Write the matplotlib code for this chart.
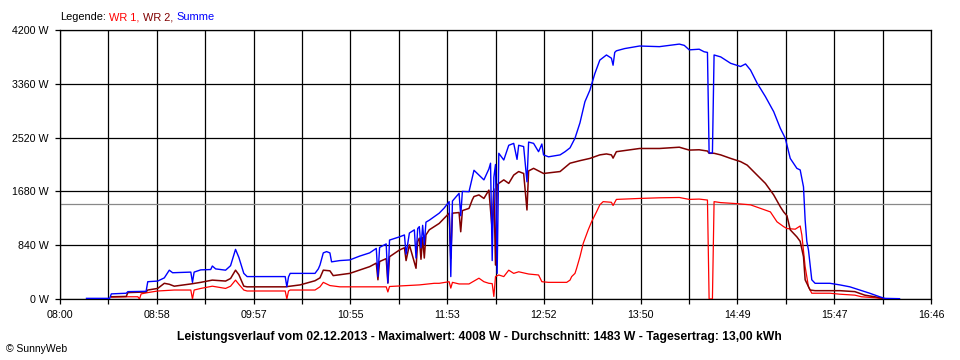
import matplotlib
matplotlib.use("Agg")
import matplotlib.pyplot as plt
from matplotlib.offsetbox import TextArea, HPacker, AnchoredOffsetbox

plt.rcParams['font.family'] = ['Liberation Sans', 'DejaVu Sans']

# --- Daten ---
# WR 1 (rot)
wr1_zeit = ["08:31", "08:41", "08:47", "08:48", "08:49", "08:53", "08:59", "09:09", "09:19", "09:20",
            "09:21", "09:25", "09:32", "09:40", "09:43", "09:46", "09:48", "09:51", "09:53", "10:16",
            "10:17", "10:18", "10:19", "10:34", "10:37", "10:39", "10:43", "10:49", "11:17", "11:18",
            "11:19", "11:37", "11:46", "11:49", "11:55", "11:56", "11:57", "12:01", "12:07", "12:10",
            "12:13", "12:16", "12:19", "12:21", "12:22", "12:23", "12:25", "12:28", "12:31", "12:34",
            "12:37", "12:43", "12:49", "12:51", "12:55", "13:06", "13:08", "13:09", "13:11", "13:12",
            "13:14", "13:16", "13:19", "13:21", "13:24", "13:26", "13:28", "13:33", "13:34", "13:36",
            "13:50", "14:02", "14:14", "14:20", "14:26", "14:31", "14:32", "14:34", "14:35", "14:39",
            "14:48", "14:57", "15:03", "15:09", "15:13", "15:17", "15:19", "15:24", "15:27", "15:28",
            "15:30", "15:32", "15:34", "15:45", "15:51", "16:00", "16:04", "16:12", "16:18"]
wr1_w = [30, 35, 35, 0, 80, 100, 125, 140, 140, 0,
         140, 165, 200, 165, 200, 295, 230, 140, 125, 125,
         0, 125, 140, 140, 190, 260, 210, 190, 190, 110,
         195, 220, 245, 245, 270, 170, 260, 235, 235, 280,
         325, 270, 245, 240, 40, 350, 375, 350, 450, 400,
         425, 390, 375, 270, 260, 260, 295, 350, 400, 480,
         660, 870, 1080, 1205, 1360, 1470, 1520, 1510, 1460, 1555,
         1570, 1580, 1585, 1555, 1560, 1545, 0, 0, 1520, 1505,
         1490, 1470, 1415, 1360, 1205, 1130, 1100, 1090, 1140, 1000,
         505, 190, 90, 90, 75, 60, 35, 20, 0]

# WR 2 (dunkelrot)
wr2_zeit = ["08:31", "08:40", "08:41", "08:52", "08:53", "08:59", "09:03", "09:06", "09:09", "09:19",
            "09:25", "09:32", "09:40", "09:43", "09:46", "09:48", "09:51", "09:53", "10:16", "10:19",
            "10:25", "10:34", "10:37", "10:39", "10:43", "10:45", "10:55", "11:07", "11:11", "11:12",
            "11:13", "11:17", "11:18", "11:19", "11:25", "11:28", "11:29", "11:31", "11:35", "11:36",
            "11:37", "11:38", "11:39", "11:40", "11:41", "11:43", "11:49", "11:55", "11:56", "11:57",
            "12:01", "12:02", "12:03", "12:07", "12:09", "12:10", "12:13", "12:16", "12:19", "12:21",
            "12:22", "12:23", "12:24", "12:25", "12:28", "12:31", "12:34", "12:37", "12:40", "12:42",
            "12:43", "12:46", "12:52", "13:02", "13:08", "13:14", "13:20", "13:26", "13:30", "13:33",
            "13:34", "13:36", "13:50", "14:02", "14:14", "14:20", "14:26", "14:31", "14:32", "14:35",
            "14:39", "14:45", "14:51", "14:55", "15:00", "15:06", "15:11", "15:15", "15:17", "15:19",
            "15:21", "15:25", "15:27", "15:29", "15:30", "15:33", "15:36", "15:51", "16:00", "16:06",
            "16:12", "16:18"]
wr2_w = [35, 40, 100, 110, 140, 165, 245, 230, 200, 235,
         260, 295, 280, 320, 450, 380, 200, 190, 190, 200,
         220, 285, 330, 450, 440, 365, 400, 505, 560, 300,
         585, 630, 250, 660, 765, 800, 600, 845, 480, 900,
         950, 620, 960, 640, 1000, 1080, 1180, 1340, 635, 1340,
         1350, 1050, 1380, 1415, 1550, 1600, 1625, 1570, 1700, 1080,
         1720, 530, 1780, 1805, 1860, 1805, 1935, 1990, 1960, 1390,
         2000, 2040, 1960, 1990, 2120, 2160, 2195, 2250, 2265, 2250,
         2200, 2300, 2350, 2350, 2370, 2325, 2330, 2310, 2275, 2275,
         2250, 2195, 2145, 2090, 1960, 1805, 1625, 1440, 1360, 1300,
         1080, 970, 900, 660, 300, 140, 130, 130, 115, 60,
         35, 5]

# Summe (blau)
summe_zeit = ["08:16", "08:30", "08:31", "08:40", "08:41", "08:52", "08:53", "08:59", "09:03", "09:06",
              "09:08", "09:19", "09:20", "09:21", "09:25", "09:31", "09:32", "09:34", "09:40", "09:43",
              "09:46", "09:48", "09:51", "09:53", "10:16", "10:17", "10:18", "10:19", "10:34", "10:36",
              "10:37", "10:39", "10:41", "10:43", "10:44", "10:49", "10:55", "11:01", "11:07", "11:11",
              "11:12", "11:13", "11:17", "11:18", "11:19", "11:25", "11:28", "11:29", "11:31", "11:34",
              "11:35", "11:36", "11:37", "11:38", "11:39", "11:40", "11:41", "11:43", "11:49", "11:52",
              "11:55", "11:56", "11:57", "12:01", "12:02", "12:03", "12:07", "12:09", "12:10", "12:13",
              "12:16", "12:19", "12:20", "12:21", "12:22", "12:23", "12:24", "12:25", "12:28", "12:31",
              "12:34", "12:36", "12:37", "12:40", "12:42", "12:43", "12:46", "12:49", "12:51", "12:52",
              "12:55", "13:02", "13:05", "13:08", "13:11", "13:14", "13:17", "13:20", "13:23", "13:26",
              "13:30", "13:33", "13:34", "13:35", "13:36", "13:41", "13:50", "14:02", "14:14", "14:17",
              "14:20", "14:26", "14:29", "14:31", "14:32", "14:34", "14:35", "14:39", "14:45", "14:51",
              "14:54", "14:57", "15:01", "15:06", "15:11", "15:15", "15:18", "15:21", "15:25", "15:27",
              "15:29", "15:30", "15:31", "15:32", "15:34", "15:36", "15:45", "15:51", "15:57", "16:03",
              "16:09", "16:15", "16:18", "16:27"]
summe_w = [10, 10, 80, 90, 115, 120, 270, 280, 330, 450,
           410, 420, 260, 420, 455, 460, 515, 470, 450, 520,
           775, 650, 400, 350, 350, 190, 345, 400, 400, 470,
           530, 720, 740, 720, 580, 600, 610, 670, 720, 790,
           350, 805, 860, 250, 920, 970, 1000, 700, 1030, 1080,
           640, 1100, 1130, 800, 1150, 850, 1200, 1230, 1340, 1420,
           1520, 350, 1530, 1650, 1300, 1680, 1675, 1900, 2010, 1935,
           1860, 2030, 2120, 600, 1900, 2100, 400, 2275, 2170, 2400,
           2430, 2180, 2400, 2380, 1830, 2450, 2430, 2300, 2420, 2250,
           2220, 2250, 2300, 2360, 2510, 2750, 3080, 3260, 3520, 3730,
           3810, 3760, 3650, 3850, 3875, 3910, 3950, 3940, 3980, 3960,
           3890, 3900, 3860, 3850, 2280, 2280, 3810, 3780, 3680, 3630,
           3670, 3575, 3370, 3160, 2925, 2665, 2510, 2195, 2040, 2015,
           1750, 1230, 900, 765, 300, 245, 245, 220, 190, 140,
           90, 35, 10, 5]

durchschnitt = 1483
y_ticks = [0, 840, 1680, 2520, 3360, 4200]
x_labels = ["08:00", "08:58", "09:57", "10:55", "11:53", "12:52", "13:50", "14:49", "15:47", "16:46"]
titel = ("Leistungsverlauf vom 02.12.2013 - Maximalwert: 4008 W - "
         "Durchschnitt: 1483 W - Tagesertrag: 13,00 kWh")


def minuten(liste):
    return [int(s[:2]) * 60 + int(s[3:]) for s in liste]


start, ende = minuten(["08:00", "16:46"])

fig = plt.figure(figsize=(9.6, 3.6), dpi=100)
ax = fig.add_axes([60 / 960, 61 / 360, 871 / 960, 269 / 360])

# Gitter: 18 Spalten, Beschriftung an jeder zweiten
n = 18
x_pos = [start + (ende - start) * i / n for i in range(n + 1)]
x_txt = []
for i in range(n + 1):
    x_txt.append(x_labels[i // 2] if i % 2 == 0 else "")
ax.set_xticks(x_pos)
ax.set_xticklabels(x_txt)
ax.set_yticks(y_ticks)
ax.set_yticklabels([f"{v} W" for v in y_ticks])
ax.grid(True, color='black', linewidth=0.9)
ax.set_axisbelow(True)
ax.tick_params(direction='out', length=3.6, width=0.9, labelsize=7.7, pad=4.5, colors='black')
for s in ax.spines.values():
    s.set_linewidth(0.9)

ax.axhline(durchschnitt, color='#888888', linewidth=0.9, zorder=1.5)

ax.plot(minuten(wr1_zeit), wr1_w, color='#ff0000', linewidth=0.9, zorder=3)
ax.plot(minuten(wr2_zeit), wr2_w, color='#800000', linewidth=1.1, zorder=4)
ax.plot(minuten(summe_zeit), summe_w, color='#0000ff', linewidth=1.0, zorder=5)

ax.set_xlim(start, ende)
ax.set_ylim(0, 4200)

# Legende als farbiger Text
teile = [TextArea("Legende:", textprops=dict(color='black', size=7.9)),
         TextArea("WR 1,", textprops=dict(color='#ff0000', size=7.9)),
         TextArea("WR 2,", textprops=dict(color='#800000', size=7.9)),
         TextArea("Summe", textprops=dict(color='#0000ff', size=7.9))]
box = HPacker(children=teile, align='baseline', pad=0, sep=2.5)
anker = AnchoredOffsetbox(loc='center left', child=box, pad=0, borderpad=0, frameon=False,
                          bbox_to_anchor=(60 / 960, 1 - 17 / 360), bbox_transform=fig.transFigure)
fig.add_artist(anker)

fig.text(479 / 960, 1 - 337 / 360, titel, ha='center', va='center', fontsize=8.7, fontweight='bold')
fig.text(6 / 960, 1 - 349 / 360, "\u00a9 SunnyWeb", ha='left', va='center', fontsize=7.5)

plt.savefig('out.png', dpi=100)
